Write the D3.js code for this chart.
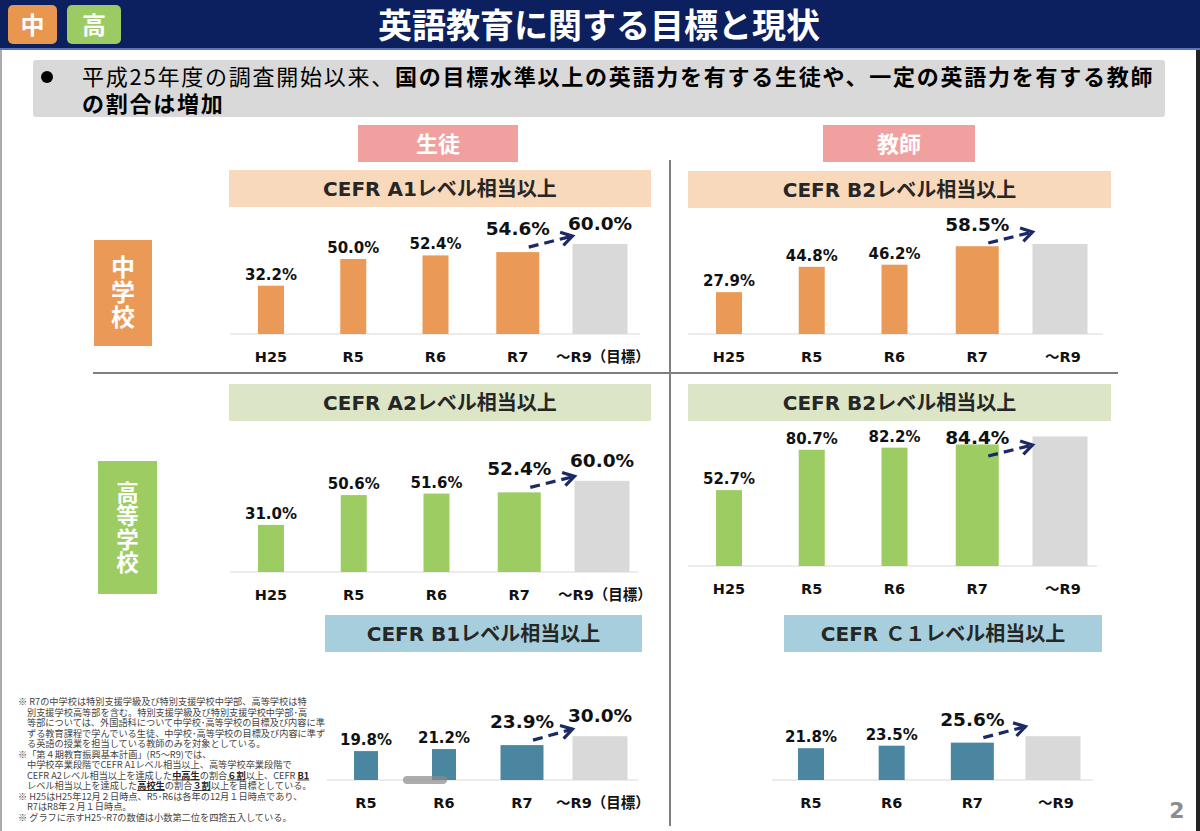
<!DOCTYPE html>
<html>
<head>
<meta charset="utf-8">
<script src="https://cdn.jsdelivr.net/npm/d3@7"></script>
<style>
  body { margin: 0; background: #fff; }
  svg { display: block; font-family: "DejaVu Sans", "Noto Sans CJK JP", sans-serif; }
  .jp { font-family: "Noto Sans CJK JP", sans-serif; }
  .vert { writing-mode: vertical-rl; }
</style>
</head>
<body>
<svg width="1200" height="831"></svg>
<script>
// categories
const catsFull = ["H25", "R5", "R6", "R7", "～R9"]
const catsShort = ["R5", "R6", "R7", "～R9"]

// percent values (last one = target)
const jhsStudentA1 = [32.2, 50.0, 52.4, 54.6, 60.0]
const jhsTeacherB2 = [27.9, 44.8, 46.2, 58.5, 60.0]
const hsStudentA2 = [31.0, 50.6, 51.6, 52.4, 60.0]
const hsTeacherB2 = [52.7, 80.7, 82.2, 84.4, 90.0]
const hsStudentB1 = [19.8, 21.2, 23.9, 30.0]
const hsTeacherC1 = [21.8, 23.5, 25.6, 30.0]

const panelTitles = ["CEFR A1レベル相当以上", "CEFR B2レベル相当以上", "CEFR A2レベル相当以上",
                     "CEFR B2レベル相当以上", "CEFR B1レベル相当以上", "CEFR Ｃ１レベル相当以上"]

const svg = d3.select("svg").attr("viewBox", "0 0 1200 831")

const orange = "#EA9A56", green = "#9DCC63", blue = "#4B86A0", gray = "#D9D9D9", navy = "#1B2A66"

// panel layout
const panels = [
    {values: jhsStudentA1, cats: catsFull, title: panelTitles[0], student: true, head: [229, 170, 422], headFill: "#F9D9BC", fill: orange, base: 334, k: 1.5, xr: [271, 600], ax: [230, 640], thin: 26},
    {values: jhsTeacherB2, cats: catsFull, title: panelTitles[1], student: false, head: [688, 171, 423], headFill: "#F9D9BC", fill: orange, base: 334, k: 1.5, xr: [729, 1060], ax: [688, 1103], thin: 26},
    {values: hsStudentA2, cats: catsFull, title: panelTitles[2], student: true, head: [229, 384, 422], headFill: "#DCE6C6", fill: green, base: 572, k: 1.52, xr: [271, 602], ax: [230, 638], thin: 26},
    {values: hsTeacherB2, cats: catsFull, title: panelTitles[3], student: false, head: [688, 384, 423], headFill: "#DCE6C6", fill: green, base: 566, k: 1.44, xr: [729, 1060], ax: [688, 1097], thin: 26},
    {values: hsStudentB1, cats: catsShort, title: panelTitles[4], student: true, head: [325, 615, 317], headFill: "#A6CEDC", fill: blue, base: 780, k: 1.46, xr: [366, 600], ax: [327, 638], thin: 24},
    {values: hsTeacherC1, cats: catsShort, title: panelTitles[5], student: false, head: [784, 615, 318], headFill: "#A6CEDC", fill: blue, base: 780, k: 1.46, xr: [811, 1053], ax: [772, 1093], thin: 26}
]

// page frame
svg.append("rect").attr("x", 0).attr("y", 0).attr("width", 1200).attr("height", 831).attr("fill", "#fff")
svg.append("line").attr("x1", 1).attr("x2", 1).attr("y1", 48).attr("y2", 831).attr("stroke", "#aaa").attr("stroke-width", 2)
svg.append("line").attr("x1", 1198).attr("x2", 1198).attr("y1", 0).attr("y2", 831).attr("stroke", "#222").attr("stroke-width", 4)

// title bar
svg.append("rect").attr("x", 0).attr("y", 0).attr("width", 1200).attr("height", 48).attr("fill", "#0C1F5E")
svg.append("line").attr("x1", 0).attr("x2", 1200).attr("y1", 49).attr("y2", 49).attr("stroke", "#5A78B0").attr("stroke-width", 2)

const tags = [["中", 8, 49, "#E9964F"], ["高", 67, 54, "#9BCB62"]]
tags.forEach(t => {
    svg.append("rect").attr("x", t[1]).attr("y", 5).attr("width", t[2]).attr("height", 39).attr("rx", 5).attr("fill", t[3])
    svg.append("text").attr("class", "jp").attr("x", t[1] + t[2] / 2).attr("y", 34)
        .attr("text-anchor", "middle").attr("font-size", 24).attr("font-weight", "bold").attr("fill", "#fff").text(t[0])
})

svg.append("text").attr("class", "jp").attr("x", 599).attr("y", 38)
    .attr("text-anchor", "middle").attr("font-size", 34).attr("font-weight", "bold").attr("fill", "#fff")
    .text("英語教育に関する目標と現状")

// summary box
svg.append("rect").attr("x", 33).attr("y", 60).attr("width", 1132).attr("height", 57).attr("rx", 3).attr("fill", "#D9D9D9")
svg.append("circle").attr("cx", 47).attr("cy", 77).attr("r", 6).attr("fill", "#000")
const line1 = svg.append("text").attr("class", "jp").attr("x", 82).attr("y", 85)
    .attr("font-size", 22).attr("letter-spacing", 1.75).attr("fill", "#000")
line1.append("tspan").text("平成25年度の調査開始以来、")
line1.append("tspan").attr("font-weight", "bold").text("国の目標水準以上の英語力を有する生徒や、一定の英語力を有する教師")
svg.append("text").attr("class", "jp").attr("x", 82).attr("y", 112)
    .attr("font-size", 22).attr("letter-spacing", 1.75).attr("font-weight", "bold").text("の割合は増加")

// column heads
const colHeads = [["生徒", 358, 160], ["教師", 823, 152]]
colHeads.forEach(c => {
    svg.append("rect").attr("x", c[1]).attr("y", 125).attr("width", c[2]).attr("height", 37).attr("fill", "#F0A19F")
    svg.append("text").attr("class", "jp").attr("x", c[1] + c[2] / 2).attr("y", 152)
        .attr("text-anchor", "middle").attr("font-size", 22).attr("font-weight", "bold").attr("fill", "#fff").text(c[0])
})

// row heads (vertical text)
const rowHeads = [["中学校", 94, 240, 58, 106, orange, 292, 24, 1], ["高等学校", 98, 461, 59, 133, green, 528, 22.5, 1]]
rowHeads.forEach(r => {
    svg.append("rect").attr("x", r[1]).attr("y", r[2]).attr("width", r[3]).attr("height", r[4]).attr("fill", r[5])
    svg.append("text").attr("class", "jp vert").attr("x", r[1] + r[3] / 2).attr("y", r[6])
        .attr("text-anchor", "middle").attr("font-size", r[7]).attr("letter-spacing", r[8])
        .attr("font-weight", "bold").attr("fill", "#fff").text(r[0])
})

// separators
svg.append("line").attr("x1", 670).attr("x2", 670).attr("y1", 160).attr("y2", 826).attr("stroke", "#7f7f7f").attr("stroke-width", 2)
svg.append("line").attr("x1", 93).attr("x2", 1118).attr("y1", 373).attr("y2", 373).attr("stroke", "#7f7f7f").attr("stroke-width", 2)

// panels
panels.forEach(p => {
    const g = svg.append("g")
    const n = p.cats.length
    const x = d3.scalePoint().domain(p.cats).range(p.xr)
    const y = d3.scaleLinear().domain([0, 100]).range([p.base, p.base - 100 * p.k])
    const barW = i => i == n - 1 ? 55 : (i == n - 2 ? 43 : p.thin)
    const headBottom = p.head[1] + 37

    g.append("rect").attr("x", p.head[0]).attr("y", p.head[1]).attr("width", p.head[2]).attr("height", 37).attr("fill", p.headFill)
    g.append("text").attr("x", p.head[0] + p.head[2] / 2).attr("y", p.head[1] + 26)
        .attr("text-anchor", "middle").attr("font-size", 20).attr("font-weight", "bold").attr("fill", "#262626").text(p.title)

    g.append("line").attr("x1", p.ax[0]).attr("x2", p.ax[1]).attr("y1", p.base).attr("y2", p.base)
        .attr("stroke", "#D9D9D9").attr("stroke-width", 1)

    g.selectAll("rect.bar")
        .data(p.values)
        .enter()
        .append("rect")
        .attr("class", "bar")
        .attr("x", (d, i) => x(p.cats[i]) - barW(i) / 2)
        .attr("y", d => y(d))
        .attr("width", (d, i) => barW(i))
        .attr("height", d => p.base - y(d))
        .attr("fill", (d, i) => i == n - 1 ? gray : p.fill)

    const labelY = (d, i) => {
        if (i == n - 1) return y(d) - 14
        if (i == n - 2) return Math.max(y(d) - 17, headBottom + 23)
        return Math.max(y(d) - 6, headBottom + 21)
    }

    g.selectAll("text.val")
        .data(p.values)
        .enter()
        .filter((d, i) => p.student || i < n - 1)
        .append("text")
        .attr("class", "val")
        .attr("x", (d, i) => x(p.cats[i]))
        .attr("y", labelY)
        .attr("text-anchor", "middle")
        .attr("font-size", (d, i) => i >= n - 2 ? 18.5 : 15)
        .attr("font-weight", "bold")
        .attr("fill", "#111")
        .text(d => d.toFixed(1) + "%")

    g.selectAll("text.cat")
        .data(p.cats)
        .enter()
        .append("text")
        .attr("class", "cat")
        .attr("x", (d, i) => x(d) + (i == n - 1 ? 3 : 0))
        .attr("y", p.base + 28)
        .attr("text-anchor", "middle")
        .attr("font-size", 14.5)
        .attr("font-weight", "bold")
        .attr("fill", "#111")
        .text((d, i) => i == n - 1 && p.student ? d + "（目標）" : d)

    // dashed arrow from last actual to target
    const ly = labelY(p.values[n - 2], n - 2)
    const x0 = x(p.cats[n - 2]) + 11, y0 = ly + 12
    const x1 = x(p.cats[n - 1]) - barW(n - 1) / 2, y1 = ly + 1
    const ang = Math.atan2(y1 - y0, x1 - x0)
    g.append("line").attr("x1", x0).attr("y1", y0).attr("x2", x1 - 3 * Math.cos(ang)).attr("y2", y1 - 3 * Math.sin(ang))
        .attr("stroke", navy).attr("stroke-width", 3.2).attr("stroke-dasharray", "10 6")
    const head = d3.line()
    g.append("path")
        .attr("d", head([
            [x1 - 13 * Math.cos(ang - 0.55), y1 - 13 * Math.sin(ang - 0.55)],
            [x1, y1],
            [x1 - 13 * Math.cos(ang + 0.55), y1 - 13 * Math.sin(ang + 0.55)]
        ]))
        .attr("fill", "none").attr("stroke", navy).attr("stroke-width", 3.2)
})

// scrollbar-like smudge under R6 in the B1 panel
svg.append("rect").attr("x", 403).attr("y", 776).attr("width", 44).attr("height", 8).attr("rx", 4)
    .attr("fill", "#8a8a8a").attr("opacity", 0.7)

// footnotes
const notes = [
    [18, [["※ R7の中学校は特別支援学級及び特別支援学校中学部、高等学校は特"]]],
    [27, [["別支援学校高等部を含む。特別支援学級及び特別支援学校中学部･高"]]],
    [27, [["等部については、外国語科について中学校･高等学校の目標及び内容に準"]]],
    [27, [["ずる教育課程で学んでいる生徒、中学校･高等学校の目標及び内容に準ず"]]],
    [27, [["る英語の授業を担当している教師のみを対象としている。"]]],
    [18, [["※「第４期教育振興基本計画」(R5～R9)では、"]]],
    [27, [["中学校卒業段階でCEFR A1レベル相当以上、高等学校卒業段階で"]]],
    [27, [["CEFR A2レベル相当以上を達成した"], ["中高生", 1], ["の割合"], ["６割", 1], ["以上、CEFR "], ["B1", 1]]],
    [27, [["レベル相当以上を達成した"], ["高校生", 1], ["の割合"], ["３割", 1], ["以上を目標としている。"]]],
    [18, [["※ H25はH25年12月２日時点、R5･R6は各年の12月１日時点であり、"]]],
    [27, [["R7はR8年２月１日時点。"]]],
    [18, [["※ グラフに示すH25~R7の数値は小数第二位を四捨五入している。"]]]
]
notes.forEach((ln, i) => {
    const t = svg.append("text").attr("class", "jp").attr("x", ln[0]).attr("y", 705 + i * 10.5)
        .attr("font-size", 9.2).attr("fill", "#444")
    ln[1].forEach(seg => {
        const s = t.append("tspan").text(seg[0])
        if (seg[1]) s.attr("font-weight", "bold").attr("fill", "#222").attr("text-decoration", "underline")
    })
})

// page number
svg.append("text").attr("x", 1177).attr("y", 818).attr("text-anchor", "middle")
    .attr("font-size", 22).attr("font-weight", "bold").attr("fill", "#8c8c8c").text("2")
</script>
</body>
</html>
